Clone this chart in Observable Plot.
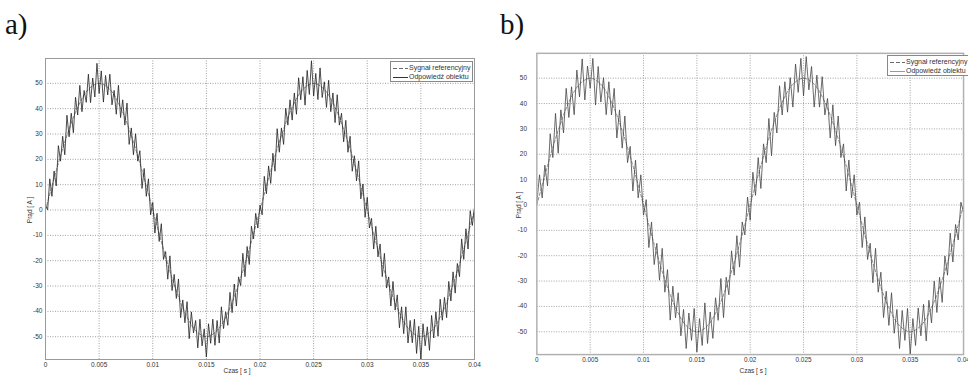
<!DOCTYPE html>
<html>
<head>
<meta charset="utf-8">
<script src="https://cdn.jsdelivr.net/npm/d3@7"></script>
<script src="https://cdn.jsdelivr.net/npm/@observablehq/plot@0.6"></script>
<style>
  html, body { margin: 0; padding: 0; background: #fff; overflow: hidden; }
  #root { position: relative; width: 968px; height: 376px; overflow: hidden; font-family: "Liberation Sans", Arial, sans-serif; }
  .panel { position: absolute; }
  .tag { position: absolute; font-family: "Liberation Serif", "Times New Roman", serif; font-size: 29px; color: #111; line-height: 1; }
  .xlab, .ylab { position: absolute; font-size: 6.5px; color: #333; white-space: nowrap; line-height: 1; }
  .ylab { transform: translate(-50%, -50%) rotate(-90deg); }
  .xlab { transform: translateX(-50%); }
  .legend { position: absolute; border: 1px solid #888; background: #fff; font-size: 7px; color: #333; line-height: 9px; padding: 1px 2px 0 2px; white-space: nowrap; }
  .legend svg { vertical-align: middle; margin-right: 1px; }
</style>
</head>
<body>
<div id="root"></div>
<script>
// ---------- data ----------
const tStepA = 0.0002;   // sampling step of panel a response [s]
const tStepB = 0.00025;  // sampling step of panel b response [s]
const tStepRef = 0.001;  // sampling step of reference signal [s]

const xTicks = [0, 0.005, 0.01, 0.015, 0.02, 0.025, 0.03, 0.035, 0.04];
const xTickLabels = ["0", "0.005", "0.01", "0.015", "0.02", "0.025", "0.03", "0.035", "0.04"];
const yTicks = [-50, -40, -30, -20, -10, 0, 10, 20, 30, 40, 50];
const yTickLabels = ["-50", "-40", "-30", "-20", "-10", "0", "10", "20", "30", "40", "50"];
const xDomain = [0, 0.04];
const yDomain = [-59, 59.8];

const legendLabels = ["Sygnał referencyjny", "Odpowiedź obiektu"];
const xLabel = "Czas [ s ]";
const yLabel = "Prąd [ A ]";
const panelTags = ["a)", "b)"];

// reference signal (same in both panels)
const refValues = [0, 15.5, 29.4, 40.5, 47.6, 50, 47.6, 40.5, 29.4, 15.5,
  0, -15.5, -29.4, -40.5, -47.6, -50, -47.6, -40.5, -29.4, -15.5,
  0, 15.5, 29.4, 40.5, 47.6, 50, 47.6, 40.5, 29.4, 15.5,
  0, -15.5, -29.4, -40.5, -47.6, -50, -47.6, -40.5, -29.4, -15.5, 0];

// panel a: object response
const respA = [2, 0.1, 12.3, 5.4, 15.4, 9.5, 25.4, 19.3, 29.1, 21.8,
  37.4, 28.9, 38.2, 30.5, 44.5, 37.5, 49.2, 38.8, 47.2, 42.5,
  53.6, 42.4, 52.1, 44.6, 57.9, 46, 54.9, 42.6, 53.1, 45.4,
  53.6, 41.5, 47.2, 37.8, 49.2, 36.5, 43.5, 33.5, 42.2, 25.9,
  32.4, 21.8, 30.1, 19.3, 23.4, 8.5, 16.4, 5.4, 12.3, -1.9,
  3, -9.1, -1.3, -12.4, -5.4, -19.5, -16.4, -27.3, -18.1, -31.8,
  -25.4, -34.9, -27.2, -42.5, -35.5, -44.5, -36.2, -50.8, -40.2, -48.5,
  -43.6, -54.4, -43.1, -53.6, -46.9, -58, -44.9, -52.6, -43.1, -53.4,
  -43.6, -52.5, -38.2, -46.8, -40.2, -45.5, -32.5, -40.5, -29.2, -37.9,
  -26.4, -29.8, -17.1, -26.3, -14.4, -21.5, -6.4, -11.4, -1.3, -7.1,
  2, -1.9, 13.3, 6.4, 17.4, 10.5, 22.4, 15.3, 32.1, 22.8,
  32.4, 25.9, 40.2, 33.5, 43.5, 35.5, 46.2, 37.8, 52.2, 43.5,
  52.6, 41.4, 55.1, 45.6, 58.9, 45, 53.9, 43.6, 56.1, 44.4,
  50.6, 40.5, 51.2, 38.8, 46.2, 34.5, 45.5, 33.5, 38.2, 26.9,
  35.4, 22.8, 29.1, 15.3, 21.4, 11.5, 19.4, 4.4, 10.3, -2.9,
  5, -7.1, -3.3, -15.4, -6.4, -18.5, -13.4, -26.3, -17.1, -30.8,
  -26.4, -37.9, -28.2, -39.5, -33.5, -46.5, -38.2, -48.8, -38.2, -52.5,
  -43.6, -52.4, -43.1, -56.6, -45.9, -59, -44.9, -53.6, -46.1, -55.4,
  -41.6, -50.5, -40.2, -49.8, -35.2, -43.5, -34.5, -42.5, -28.2, -35.9,
  -24.4, -32.8, -21.1, -26.3, -11.4, -19.5, -7.4, -15.4, -0.3, -6.1, 1];

// panel b: object response
const respB = [1, 11.9, 2.8, 15.7, 7.5, 28.1, 18.7, 36.1, 20.4, 37.5,
  28.4, 46.0, 34.5, 46.6, 35.6, 53.2, 42.6, 57.6, 41.4, 54.8,
  46, 57.8, 39.4, 54.6, 40.6, 50.2, 35.6, 48.6, 35.5, 46.0,
  26.4, 37.5, 22.4, 35.1, 16.7, 23.1, 5.5, 17.7, 2.8, 11.9,
  -4, 2.1, -16.8, -6.7, -23.5, -15.1, -29.7, -17.1, -34.4, -25.5,
  -45.4, -32.0, -44.5, -34.6, -51.6, -41.2, -56.6, -42.6, -53.4, -40.8,
  -58, -44.8, -55.4, -38.6, -54.6, -42.2, -52.6, -36.6, -45.5, -29.0,
  -44.4, -28.5, -35.4, -18.1, -27.7, -12.1, -24.5, -6.7, -11.8, 3.1,
  -6, 12.9, 3.8, 18.7, 6.5, 24.1, 16.7, 34.1, 19.4, 36.5,
  28.4, 47.0, 35.5, 48.6, 36.6, 50.2, 38.6, 55.6, 44.4, 57.8,
  43, 58.5, 45.4, 54.6, 38.6, 51.2, 38.6, 50.6, 35.5, 42.0,
  26.4, 39.5, 23.4, 35.1, 18.7, 24.1, 5.5, 17.7, 2.8, 11.9,
  -4, 1.1, -16.8, -4.7, -21.5, -15.1, -30.7, -17.1, -34.4, -26.5,
  -44.4, -34.0, -47.5, -34.6, -50.6, -41.2, -56.6, -41.6, -53.4, -40.8,
  -59, -44.8, -55.4, -40.6, -51.6, -39.2, -53.6, -37.6, -46.5, -30.0,
  -42.4, -28.5, -38.4, -20.1, -27.7, -11.1, -22.5, -7.7, -13.8, 1.1, -3];

// ---------- build ----------
const toRows = (vals, step) => vals.map((v, i) => ({t: i * step, v}));
const rowsRef = toRows(refValues, tStepRef);
const rowsA = toRows(respA, tStepA);
const rowsB = toRows(respB, tStepB);

const root = document.getElementById("root");

function makePanel(cfg) {
  const {left, top, width, height, mL, mR, mT, mB, rows, lineColor, yPad, frameStroke, frameWidth} = cfg;
  const inner = xTicks.slice(1, -1);
  const chart = Plot.plot({
    width, height,
    marginLeft: mL, marginRight: mR, marginTop: mT, marginBottom: mB,
    style: {fontFamily: "Liberation Sans, Arial, sans-serif", fontSize: "6.5px", color: "#333", background: "transparent", overflow: "visible"},
    x: {domain: xDomain, ticks: xTicks, tickFormat: d => xTickLabels[xTicks.indexOf(d)], tickSize: 0, tickPadding: 3, label: null},
    y: {domain: yDomain, ticks: yTicks, tickFormat: d => yTickLabels[yTicks.indexOf(d)], tickSize: 0, tickPadding: yPad, label: null},
    marks: [
      Plot.ruleX(inner, {stroke: "#8a8a8a", strokeWidth: 0.8, strokeDasharray: "1,1.5"}),
      Plot.ruleY(yTicks, {stroke: "#8a8a8a", strokeWidth: 0.8, strokeDasharray: "1,1.5"}),
      Plot.line(rowsRef, {x: "t", y: "v", stroke: "#555", strokeWidth: 0.7, strokeDasharray: "3,2", curve: "catmull-rom"}),
      Plot.line(rows, {x: "t", y: "v", stroke: lineColor, strokeWidth: 0.8}),
      Plot.frame({stroke: frameStroke, strokeWidth: frameWidth})
    ]
  });
  const div = document.createElement("div");
  div.className = "panel";
  div.style.left = left + "px";
  div.style.top = top + "px";
  div.appendChild(chart);
  root.appendChild(div);
}

function addText(cls, text, x, y) {
  const d = document.createElement("div");
  d.className = cls;
  d.textContent = text;
  d.style.left = x + "px";
  d.style.top = y + "px";
  root.appendChild(d);
}

function addLegend(x, y, w, solidColor) {
  const d = document.createElement("div");
  d.className = "legend";
  d.style.left = x + "px";
  d.style.top = y + "px";
  if (w) d.style.width = w + "px";
  const dash = `<svg width="15" height="5"><line x1="0" y1="2.5" x2="15" y2="2.5" stroke="#444" stroke-width="0.8" stroke-dasharray="4,2"/></svg>`;
  const solid = `<svg width="15" height="5"><line x1="0" y1="2.5" x2="15" y2="2.5" stroke="${solidColor}" stroke-width="1"/></svg>`;
  d.innerHTML = `<div>${dash}${legendLabels[0]}</div><div>${solid}${legendLabels[1]}</div>`;
  root.appendChild(d);
}

// panel a
makePanel({left: 0, top: 40, width: 484, height: 336, mL: 45, mR: 10, mT: 18, mB: 17,
  rows: rowsA, lineColor: "#222", yPad: 3, frameStroke: "#9a9a9a", frameWidth: 1});
// panel b
makePanel({left: 484, top: 40, width: 490, height: 336, mL: 53, mR: 5, mT: 13, mB: 18,
  rows: rowsB, lineColor: "#444", yPad: 10, frameStroke: "#b0b0b0", frameWidth: 1.5});

addText("tag", panelTags[0], 5, 10);
addText("tag", panelTags[1], 500, 10);
addText("xlab", xLabel, 237, 368);
addText("xlab", xLabel, 753, 368);
addText("ylab", yLabel, 30, 210);
addText("ylab", yLabel, 519, 205);
addLegend(390, 61, null, "#333");
addLegend(887, 55, null, "#999");
</script>
</body>
</html>
